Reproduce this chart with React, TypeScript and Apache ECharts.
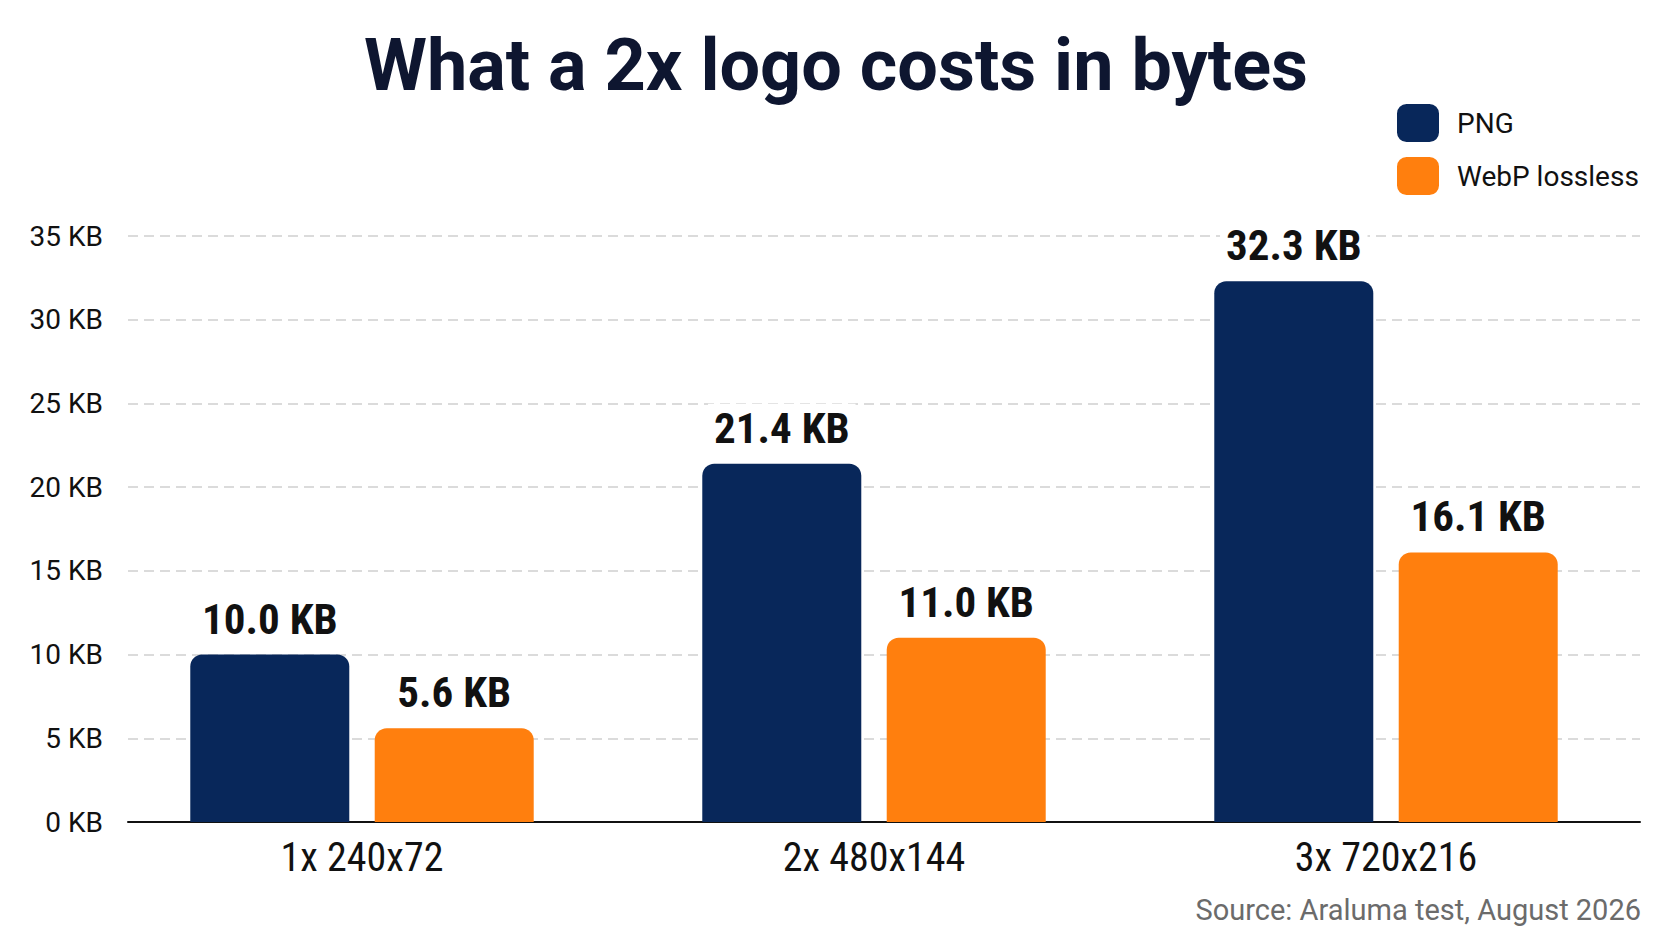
import React, { useEffect, useRef } from "react";
import * as echarts from "echarts";

const categories = ["1x 240x72", "2x 480x144", "3x 720x216"];
const seriesNames = ["PNG", "WebP lossless"];
const pngValues = [10.0, 21.4, 32.3];
const webpValues = [5.6, 11.0, 16.1];
const yTicks = [0, 5, 10, 15, 20, 25, 30, 35];
const titleText = "What a 2x logo costs in bytes";
const sourceText = "Source: Araluma test, August 2026";

const NAVY = "#08275a";
const ORANGE = "#ff7f0e";
const NARROW = "'Liberation Sans Narrow', 'Roboto Condensed', 'DejaVu Sans Condensed', Roboto, sans-serif";

export default function App() {
  const ref = useRef<HTMLDivElement>(null);
  useEffect(() => {
    if (!ref.current) return;
    const chart = echarts.init(ref.current, null, { renderer: "svg" });
    const yMax = yTicks[yTicks.length - 1];
    const barLabel = {
      show: true,
      position: "top",
      distance: 12,
      formatter: (p: any) => `${Number(p.value).toFixed(1)} KB`,
      fontFamily: NARROW,
      fontWeight: "bold",
      fontSize: 43,
      lineHeight: 44,
      color: "#111111",
      backgroundColor: "#ffffff",
      padding: [2, 6],
    };
    chart.setOption({
      animation: false,
      backgroundColor: "#ffffff",
      title: {
        text: titleText,
        left: "center",
        top: 20,
        textStyle: {
          fontFamily: "Roboto, 'Noto Sans', sans-serif",
          fontWeight: "bold",
          fontSize: 72,
          lineHeight: 80,
          color: "#0e1630",
        },
      },
      legend: {
        data: seriesNames,
        orient: "vertical",
        left: 1392,
        top: 99,
        itemWidth: 42,
        itemHeight: 38,
        itemGap: 15,
        icon: "roundRect",
        textStyle: {
          fontFamily: "Roboto, sans-serif",
          fontSize: 28,
          color: "#111111",
          padding: [0, 0, 0, 13],
        },
      },
      grid: [
        { left: 128, right: 32, top: 236, bottom: 119, containLabel: false },
        { left: 106, right: 30, top: 236, bottom: 119, containLabel: false },
      ],
      xAxis: [
        {
          gridIndex: 0,
          type: "value",
          min: 0,
          max: 1,
          axisLine: { show: true, onZero: false, lineStyle: { color: "#111111", width: 2 } },
          axisTick: { show: false },
          axisLabel: { show: false },
          splitLine: { show: false },
        },
        {
          gridIndex: 1,
          type: "category",
          data: categories,
          axisLine: { show: false },
          axisTick: { show: false },
          axisLabel: {
            margin: 15,
            fontFamily: NARROW,
            fontSize: 40,
            color: "#111111",
          },
        },
      ],
      yAxis: [
        {
          gridIndex: 0,
          type: "value",
          min: 0,
          max: yMax,
          interval: 5,
          axisLine: { show: false },
          axisTick: { show: false },
          axisLabel: {
            margin: 25,
            fontFamily: "Roboto, sans-serif",
            fontSize: 28,
            color: "#111111",
            formatter: (v: number) => `${v} KB`,
          },
          splitLine: {
            show: true,
            lineStyle: { color: "#cfcfcf", width: 1.5, type: [10, 6] },
          },
        },
        {
          gridIndex: 1,
          type: "value",
          min: 0,
          max: yMax,
          interval: 5,
          show: false,
          splitLine: { show: false },
        },
      ],
      series: [
        {
          name: seriesNames[0],
          type: "bar",
          xAxisIndex: 1,
          yAxisIndex: 1,
          data: pngValues,
          barWidth: 159,
          barGap: "16%",
          itemStyle: { color: NAVY, borderRadius: [12, 12, 0, 0] },
          label: barLabel,
          z: 3,
        },
        {
          name: seriesNames[1],
          type: "bar",
          xAxisIndex: 1,
          yAxisIndex: 1,
          data: webpValues,
          barWidth: 159,
          barGap: "16%",
          itemStyle: { color: ORANGE, borderRadius: [12, 12, 0, 0] },
          label: barLabel,
          z: 3,
        },
      ],
      graphic: [
        {
          type: "text",
          right: 31,
          top: 895,
          style: {
            text: sourceText,
            fontFamily: "Roboto, sans-serif",
            fontSize: 29,
            fill: "#6b6b6b",
          },
        },
      ],
    });
    return () => chart.dispose();
  }, []);
  return (
    <div
      ref={ref}
      style={{ position: "fixed", left: 0, top: 0, width: 1672, height: 941, background: "#ffffff" }}
    />
  );
}
